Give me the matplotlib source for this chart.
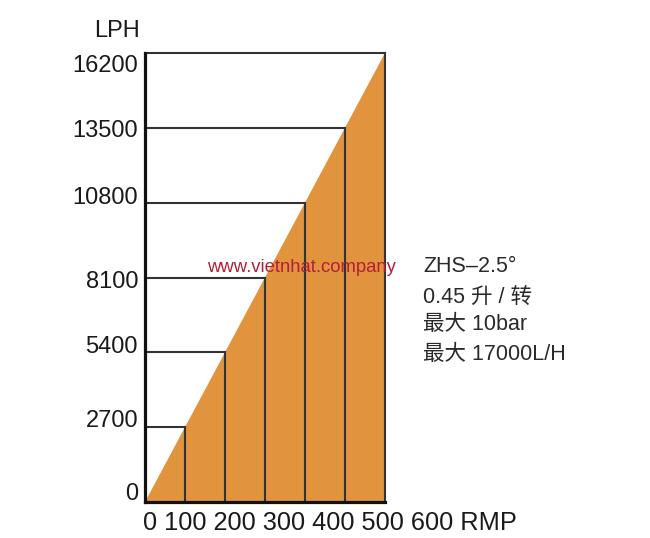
import matplotlib
matplotlib.use("Agg")
import matplotlib.pyplot as plt
from matplotlib.patches import Polygon

# ---- data ----
rpm_steps = [100, 200, 300, 400, 500, 600]
lph_steps = [2700, 5400, 8100, 10800, 13500, 16200]
y_tick_values = [0, 2700, 5400, 8100, 10800, 13500, 16200]
y_tick_labels = ["0", "2700", "5400", "8100", "10800", "13500", "16200"]
x_axis_text = "0 100 200 300 400 500 600 RMP"
y_axis_title = "LPH"
info_lines = ["ZHS\u20132.5°", "0.45 升 / 转", "最大 10bar", "最大 17000L/H"]
watermark = "www.vietnhat.company"

# ---- layout ----
W, H = 650, 538
fig = plt.figure(figsize=(W / 100, H / 100), dpi=100)
ax = fig.add_axes([145 / W, 1 - 502 / H, 240 / W, 449 / H])
ax.set_xlim(0, rpm_steps[-1])
ax.set_ylim(0, lph_steps[-1])

orange = "#E1933D"
line_col = "#333333"

tri = Polygon([(0, 0), (rpm_steps[-1], lph_steps[-1]), (rpm_steps[-1], 0)],
              closed=True, facecolor=orange, edgecolor="none", zorder=1)
ax.add_patch(tri)

for r, q in zip(rpm_steps, lph_steps):
    ax.plot([0, r], [q, q], color=line_col, lw=1.5, zorder=3, clip_on=False,
            solid_capstyle="projecting")
    ax.plot([r, r], [0, q], color=line_col, lw=1.5, zorder=3, clip_on=False,
            solid_capstyle="projecting")

for side in ["top", "right"]:
    ax.spines[side].set_visible(False)
ax.spines["left"].set_linewidth(2.3)
ax.spines["bottom"].set_linewidth(2.3)
ax.spines["left"].set_color("#111111")
ax.spines["bottom"].set_color("#111111")
ax.spines["left"].set_zorder(4)
ax.spines["bottom"].set_zorder(4)

ax.set_xticks([])
ax.set_yticks([])

# y labels (pixel offsets downward, layout only)
label_dy_px = [-8, -6, -5, 4, -5, 3, 13]
for v, lab, dy in zip(y_tick_values, y_tick_labels, label_dy_px):
    ax.annotate(lab, xy=(0, v), xycoords=("axes fraction", "data"),
                xytext=(-5, -dy * 0.72), textcoords="offset points",
                ha="right", va="center", fontsize=17,
                family="Liberation Sans", color="#1a1a1a")

fig.text(140 / W, 1 - 31 / H, y_axis_title, ha="right", va="center",
         fontsize=17, family="Liberation Sans", color="#1a1a1a")

fig.text(143 / W, 1 - 523 / H, x_axis_text, ha="left", va="center",
         fontsize=18.3, family="Liberation Sans", color="#1a1a1a")

info_y = [267, 297, 325, 354]
for t, yy in zip(info_lines, info_y):
    fig.text(423 / W, 1 - yy / H, t, ha="left", va="center", fontsize=15.5,
             family=["Liberation Sans", "Noto Sans CJK SC"], color="#2a2a2a")

fig.text(207 / W, 1 - 268 / H, watermark, ha="left", va="center",
         fontsize=13.3, family="Liberation Sans", color="#B51E3A", zorder=10)

fig.savefig("out.png", dpi=100)
